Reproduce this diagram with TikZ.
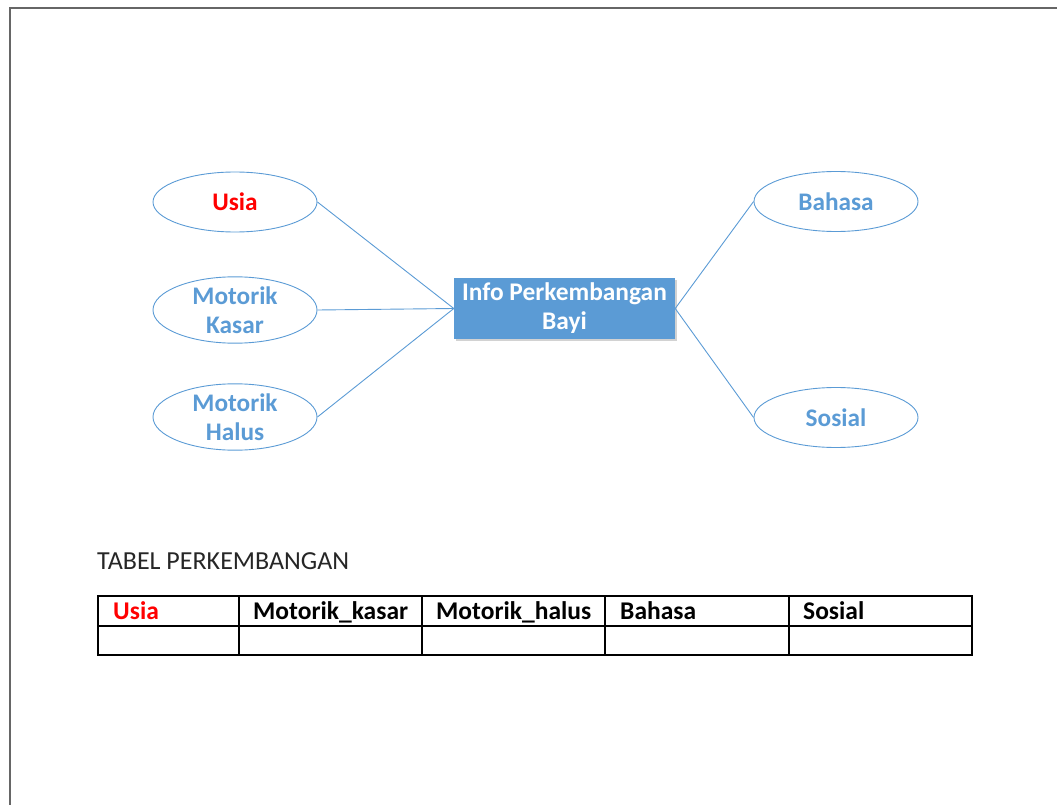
\documentclass[tikz,border=0pt]{standalone}
\usepackage{fontspec}
\setmainfont{Carlito}
\usetikzlibrary{shadows,shapes.geometric}
\definecolor{accent}{HTML}{5B9BD5}
\definecolor{hot}{HTML}{FF0000}
\begin{document}
\begin{tikzpicture}[x=1pt,y=-1pt,
  topic/.style={ellipse,draw=accent,line width=0.9pt,minimum width=164pt,minimum height=60pt,inner sep=0pt,
    font=\fontsize{25.3}{29}\selectfont\bfseries,text=accent,align=center},
  hub/.style={rectangle,fill=accent,minimum width=221pt,minimum height=61pt,inner sep=0pt,
    font=\fontsize{25.4}{29}\selectfont\bfseries,text=white,align=center,
    drop shadow={shadow xshift=1.5pt,shadow yshift=-1.5pt,fill=black!35,opacity=0.5}},
  link/.style={draw=accent,line width=0.9pt},
  grid/.style={draw=black,line width=1.6pt},
  head/.style={anchor=base west,inner sep=0pt,font=\fontsize{25.5}{30}\selectfont\bfseries}
]
\useasboundingbox (0,0) rectangle (1057,805);
% page frame
\draw[line width=2pt,draw=black!60] (10,805) -- (10,8) -- (1057,8);

% mind map
\node[hub] (hub) at (564.5,308.5) {Info Perkembangan\\Bayi};
\node[topic,text=hot] (usia) at (235,202) {Usia};
\node[topic] (kasar) at (235,310) {Motorik\\Kasar};
\node[topic] (halus) at (235,417) {Motorik\\Halus};
\node[topic] (bahasa) at (836,201.5) {Bahasa};
\node[topic] (sosial) at (836,417.5) {Sosial};

\draw[link] (usia.east) -- (hub.west);
\draw[link] (kasar.east) -- (hub.west);
\draw[link] (halus.east) -- (hub.west);
\draw[link] (hub.east) -- (bahasa.west);
\draw[link] (hub.east) -- (sosial.west);

% table
\node[anchor=base west,inner sep=0pt,font=\fontsize{26}{30}\selectfont,text=black!85] (title) at (97,569) {TABEL PERKEMBANGAN};
\draw[grid] (98,596) rectangle (972,655);
\draw[grid] (98,626) -- (972,626);
\foreach \x in {239,422,605,789} \draw[grid] (\x,596) -- (\x,655);
\node[head,text=hot] (h1) at (113,619) {Usia};
\node[head] (h2) at (253,619) {Motorik\_kasar};
\node[head] (h3) at (436,619) {Motorik\_halus};
\node[head] (h4) at (620,619) {Bahasa};
\node[head] (h5) at (803,619) {Sosial};
\end{tikzpicture}
\end{document}
